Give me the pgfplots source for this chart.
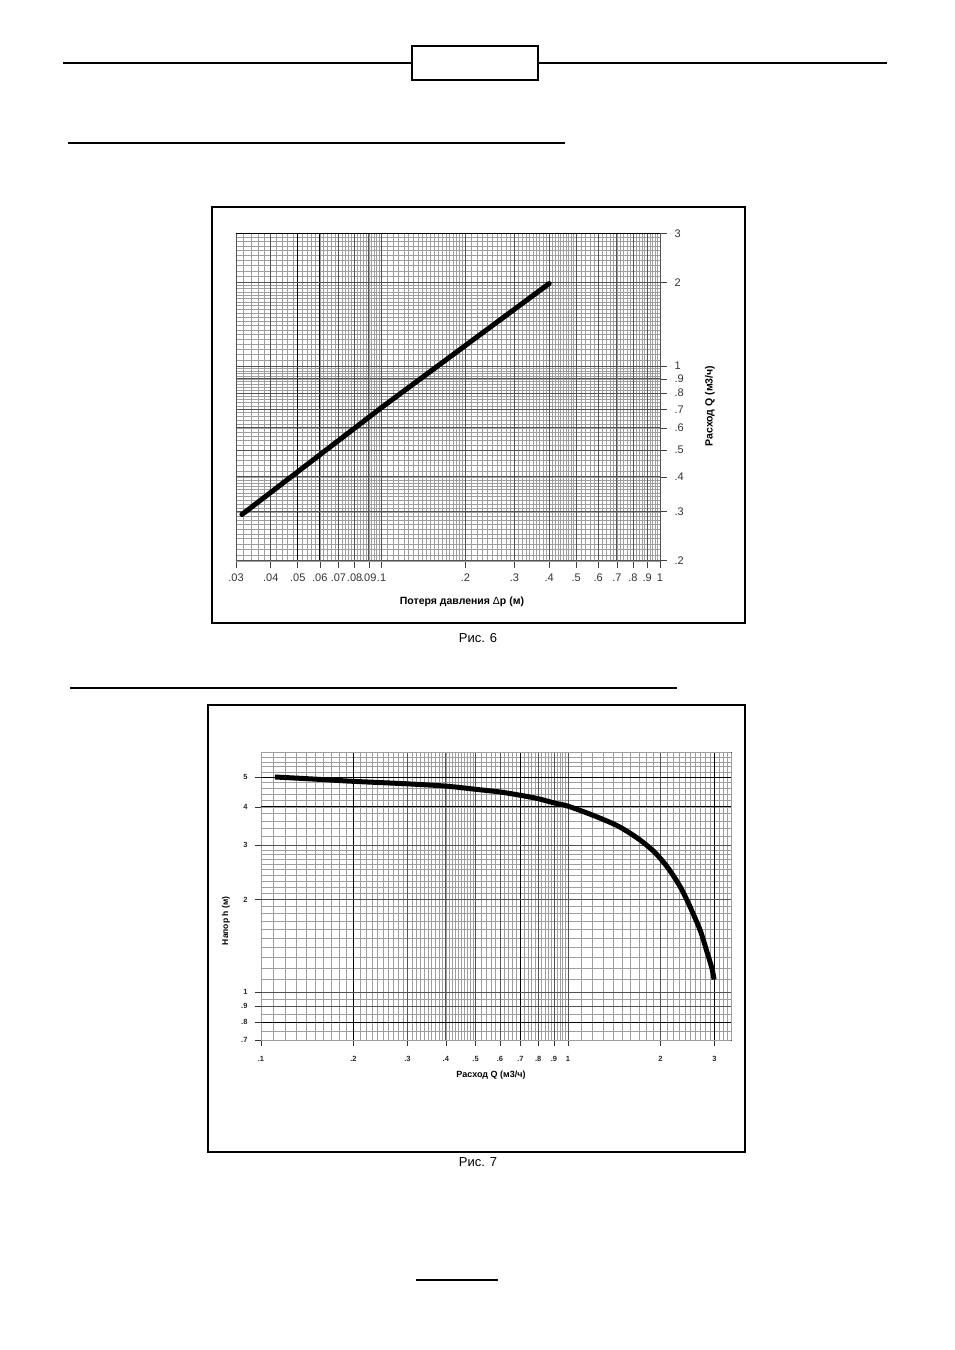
\documentclass[border=0pt]{standalone}
\usepackage{fontspec}
\setmainfont{Liberation Sans}
\usepackage{pgfplots}
\pgfplotsset{compat=1.18}
\tikzset{
  gmin/.style={draw=black!38, line width=0.45pt},
  gmaj/.style={draw=black!68, line width=0.8pt},
  gblk/.style={draw=black, line width=0.9pt},
}
\begin{document}
\begin{tikzpicture}[x=1pt,y=1pt]
\path[use as bounding box] (0pt,0pt) rectangle (954pt,1350pt);
% page decorations
\draw[line width=1.5pt] (63pt,1287pt) -- (412pt,1287pt);
\draw[line width=1.5pt] (538pt,1287pt) -- (887pt,1287pt);
\draw[line width=1.5pt] (412pt,1270pt) rectangle (538pt,1304pt);
\draw[line width=1.5pt] (68pt,1207pt) -- (565pt,1207pt);
\draw[line width=1.5pt] (70pt,662pt) -- (677pt,662pt);
\draw[line width=1.5pt] (416pt,70pt) -- (498pt,70pt);
% chart 1 frame
\draw[line width=1.6pt] (211.7pt,726.7pt) rectangle (745pt,1142.7pt);
\node at (478pt,712pt) {\fontsize{13}{15}\selectfont Рис. 6};
\begin{axis}[
  at={(236pt,789.3pt)}, anchor=south west, scale only axis,
  width=424pt, height=327.4pt,
  xmode=log, ymode=log,
  xmin=0.03, xmax=1, ymin=0.2, ymax=3,
  xtick={0.03,0.04,0.05,0.06,0.07,0.08,0.09,0.1,0.2,0.3,0.4,0.5,0.6,0.7,0.8,0.9,1},
  xticklabels={.03,.04,.05,.06,.07,.08,.09,.1,.2,.3,.4,.5,.6,.7,.8,.9,1},
  ytick={0.2,0.3,0.4,0.5,0.6,0.7,0.8,0.9,1,2,3},
  yticklabels={.2,.3,.4,.5,.6,.7,.8,.9,1,2,3},
  xtick pos=bottom, ytick pos=right, yticklabel pos=right,
  tick align=outside, major tick length=7pt, minor tick length=0pt,
  tick style={black!75, line width=0.6pt},
  axis line style={black!75, line width=0.8pt},
  ticklabel style={font=\fontsize{11}{13}\selectfont, text=black!80},
  xticklabel style={yshift=-3pt},
  yticklabel style={xshift=4pt},
  clip=false,
]
% minor vertical
\pgfplotsinvokeforeach{15,...,50}{\pgfmathsetmacro\xv{#1*0.002}\edef\tmp{\noexpand\draw[gmin] (axis cs:\xv,0.2) -- (axis cs:\xv,3);}\tmp}
\pgfplotsinvokeforeach{20,...,40}{\pgfmathsetmacro\xv{#1*0.005}\edef\tmp{\noexpand\draw[gmin] (axis cs:\xv,0.2) -- (axis cs:\xv,3);}\tmp}
\pgfplotsinvokeforeach{20,...,50}{\pgfmathsetmacro\xv{#1*0.01}\edef\tmp{\noexpand\draw[gmin] (axis cs:\xv,0.2) -- (axis cs:\xv,3);}\tmp}
\pgfplotsinvokeforeach{25,...,50}{\pgfmathsetmacro\xv{#1*0.02}\edef\tmp{\noexpand\draw[gmin] (axis cs:\xv,0.2) -- (axis cs:\xv,3);}\tmp}
% minor horizontal
\pgfplotsinvokeforeach{20,...,40}{\pgfmathsetmacro\yv{#1*0.01}\edef\tmp{\noexpand\draw[gmin] (axis cs:0.03,\yv) -- (axis cs:1,\yv);}\tmp}
\pgfplotsinvokeforeach{20,...,50}{\pgfmathsetmacro\yv{#1*0.02}\edef\tmp{\noexpand\draw[gmin] (axis cs:0.03,\yv) -- (axis cs:1,\yv);}\tmp}
\pgfplotsinvokeforeach{20,...,40}{\pgfmathsetmacro\yv{#1*0.05}\edef\tmp{\noexpand\draw[gmin] (axis cs:0.03,\yv) -- (axis cs:1,\yv);}\tmp}
\pgfplotsinvokeforeach{20,...,30}{\pgfmathsetmacro\yv{#1*0.1}\edef\tmp{\noexpand\draw[gmin] (axis cs:0.03,\yv) -- (axis cs:1,\yv);}\tmp}
% major
\pgfplotsinvokeforeach{0.03,0.04,0.07,0.08,0.09,0.1,0.2,0.3,0.4,0.5,0.6,0.7,0.8,0.9,1}{\draw[gmaj] (axis cs:#1,0.2) -- (axis cs:#1,3);}
\pgfplotsinvokeforeach{0.05,0.06}{\draw[gblk] (axis cs:#1,0.2) -- (axis cs:#1,3);}
\pgfplotsinvokeforeach{0.2,0.3,0.4,0.5,0.6,0.7,0.8,0.9,1,2}{\draw[gmaj] (axis cs:0.03,#1) -- (axis cs:1,#1);}
\draw[gblk] (axis cs:0.03,3) -- (axis cs:1,3);
\addplot[black, line width=5pt, line cap=round] coordinates {(0.0315,0.293) (0.1,0.71) (0.4,1.98)};
\end{axis}
\node[font=\bfseries\fontsize{10.5}{12}\selectfont] at (462pt,748pt) {Потеря давления {\mdseries Δ}p (м)};
\node[rotate=90, font=\bfseries\fontsize{10.5}{12}\selectfont] at (710pt,944pt) {Расход Q (м3/ч)};
% chart 2 frame
\draw[line width=1.6pt] (207.7pt,198pt) rectangle (745pt,645pt);
\node at (478pt,188pt) {\fontsize{13}{15}\selectfont Рис. 7};
\begin{axis}[
  at={(261pt,310pt)}, anchor=south west, scale only axis,
  width=470.2pt, height=287.4pt,
  xmode=log, ymode=log,
  xmin=0.1, xmax=3.4, ymin=0.7, ymax=6,
  xtick={0.1,0.2,0.3,0.4,0.5,0.6,0.7,0.8,0.9,1,2,3},
  xticklabels={.1,.2,.3,.4,.5,.6,.7,.8,.9,1,2,3},
  ytick={0.7,0.8,0.9,1,2,3,4,5},
  yticklabels={.7,.8,.9,1,2,3,4,5},
  xtick pos=bottom, ytick pos=left,
  tick align=outside, major tick length=6pt, minor tick length=0pt,
  tick style={black!80, line width=0.6pt},
  axis line style={black!75, line width=0.8pt},
  ticklabel style={font=\bfseries\fontsize{7.5}{9}\selectfont, text=black!85},
  xticklabel style={yshift=-7pt},
  yticklabel style={xshift=-4pt},
  clip=false,
]
\pgfplotsinvokeforeach{10,...,50}{\pgfmathsetmacro\xv{#1*0.01}\edef\tmp{\noexpand\draw[gmin] (axis cs:\xv,0.7) -- (axis cs:\xv,6);}\tmp}
\pgfplotsinvokeforeach{25,...,50}{\pgfmathsetmacro\xv{#1*0.02}\edef\tmp{\noexpand\draw[gmin] (axis cs:\xv,0.7) -- (axis cs:\xv,6);}\tmp}
\pgfplotsinvokeforeach{10,...,34}{\pgfmathsetmacro\xv{#1*0.1}\edef\tmp{\noexpand\draw[gmin] (axis cs:\xv,0.7) -- (axis cs:\xv,6);}\tmp}
\pgfplotsinvokeforeach{14,...,20}{\pgfmathsetmacro\yv{#1*0.05}\edef\tmp{\noexpand\draw[gmin] (axis cs:0.1,\yv) -- (axis cs:3.4,\yv);}\tmp}
\pgfplotsinvokeforeach{10,...,30}{\pgfmathsetmacro\yv{#1*0.1}\edef\tmp{\noexpand\draw[gmin] (axis cs:0.1,\yv) -- (axis cs:3.4,\yv);}\tmp}
\pgfplotsinvokeforeach{15,...,30}{\pgfmathsetmacro\yv{#1*0.2}\edef\tmp{\noexpand\draw[gmin] (axis cs:0.1,\yv) -- (axis cs:3.4,\yv);}\tmp}
\pgfplotsinvokeforeach{0.3,0.4,0.5,0.6,0.8,0.9,1,2}{\draw[gmaj] (axis cs:#1,0.7) -- (axis cs:#1,6);}
\pgfplotsinvokeforeach{0.2,0.7,3}{\draw[gblk] (axis cs:#1,0.7) -- (axis cs:#1,6);}
\pgfplotsinvokeforeach{0.9,1,2,3}{\draw[gmaj] (axis cs:0.1,#1) -- (axis cs:3.4,#1);}
\pgfplotsinvokeforeach{0.8,4,5}{\draw[gblk] (axis cs:0.1,#1) -- (axis cs:3.4,#1);}
\addplot[black, line width=5pt, smooth, line cap=butt] coordinates {
(0.111,5.0) (0.15,4.92) (0.2,4.84) (0.3,4.75) (0.4,4.67) (0.5,4.56) (0.6,4.47)
(0.7,4.36) (0.8,4.25) (0.9,4.12) (1.0,4.02) (1.21,3.75) (1.45,3.47) (1.68,3.17)
(1.9,2.87) (2.1,2.56) (2.32,2.2) (2.5,1.89) (2.7,1.58) (2.83,1.36) (2.94,1.2) (2.99,1.1)};
\end{axis}
\node[font=\bfseries\fontsize{9}{10}\selectfont] at (491pt,275pt) {Расход Q (м3/ч)};
\node[rotate=90, font=\bfseries\fontsize{8.5}{10}\selectfont] at (226pt,429pt) {Напор h (м)};
\end{tikzpicture}
\end{document}
